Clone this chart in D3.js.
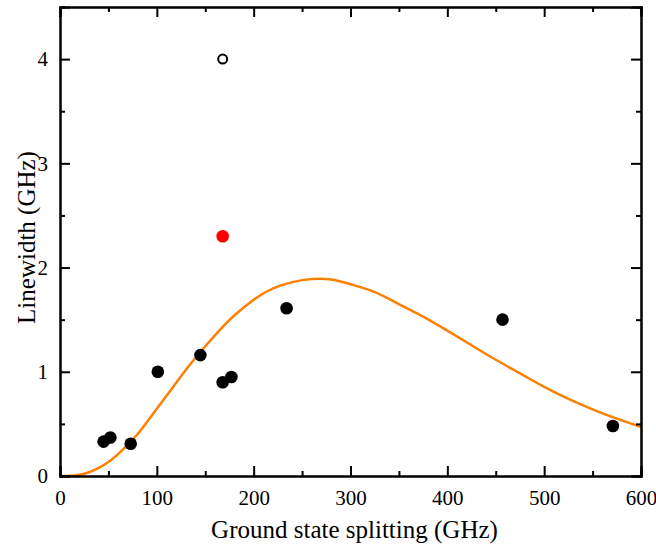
<!DOCTYPE html>
<html>
<head>
<meta charset="utf-8">
<script src="https://cdn.jsdelivr.net/npm/d3@7"></script>
<style>
body { margin: 0; background: #fff; }
</style>
</head>
<body>
<div class="chart"></div>
<script>
// measured points (GHz)
var splitting = [45, 52, 73, 101, 145, 168, 177, 234, 457, 571];
var linewidth = [0.33, 0.37, 0.31, 1.0, 1.16, 0.90, 0.95, 1.61, 1.50, 0.48];
// highlighted point and open point
var redPoint = [168, 2.30];
var openPoint = [168, 4.0];
// fit curve
var fitX = [0, 10, 20, 30, 40, 50, 60, 70, 80, 90, 100, 110, 120, 130, 140, 150, 160, 170, 180, 200, 220, 240, 260, 280, 300, 325, 350, 375, 400, 425, 450, 475, 500, 525, 550, 575, 600];
var fitY = [0, 0.002, 0.012, 0.036, 0.077, 0.135, 0.21, 0.30, 0.40, 0.52, 0.645, 0.77, 0.895, 1.02, 1.135, 1.245, 1.35, 1.45, 1.54, 1.69, 1.80, 1.86, 1.89, 1.885, 1.84, 1.765, 1.65, 1.53, 1.395, 1.255, 1.115, 0.985, 0.855, 0.74, 0.64, 0.55, 0.47];
var xTicks = [0, 100, 200, 300, 400, 500, 600];
var yTicks = [0, 1, 2, 3, 4];

var serif = "'Liberation Serif', 'Times New Roman', serif";

var margin = {top: 7, right: 15, bottom: 72, left: 60},
    width = 656 - margin.left - margin.right,
    height = 548 - margin.top - margin.bottom;

var x = d3.scaleLinear().domain([0, 600]).range([0, width]);
var y = d3.scaleLinear().domain([0, 4.5]).range([height, 0]);

var svg = d3.select(".chart")
    .append("svg")
    .attr("width", width + margin.left + margin.right)
    .attr("height", height + margin.top + margin.bottom)
    .append("g")
    .attr("transform", "translate(" + margin.left + "," + margin.top + ")");

var fitline = d3.line()
    .x(function(d) { return x(d[0]); })
    .y(function(d) { return y(d[1]); })
    .curve(d3.curveNatural);

svg.append("path")
    .datum(fitX.map(function(v, i) { return [v, fitY[i]]; }))
    .attr("d", fitline)
    .attr("fill", "none")
    .attr("stroke", "#ff8000")
    .attr("stroke-width", 2.5);

svg.selectAll(".dot")
    .data(splitting)
    .enter().append("circle")
    .attr("class", "dot")
    .attr("cx", function(d) { return x(d); })
    .attr("cy", function(d, i) { return y(linewidth[i]); })
    .attr("r", 6.3)
    .attr("fill", "#000");

svg.append("circle")
    .attr("cx", x(redPoint[0])).attr("cy", y(redPoint[1]))
    .attr("r", 6.3).attr("fill", "#ff0000");

svg.append("circle")
    .attr("cx", x(openPoint[0])).attr("cy", y(openPoint[1]))
    .attr("r", 4.5).attr("fill", "none")
    .attr("stroke", "#000").attr("stroke-width", 2);

// axes: inward ticks, major + minor, mirrored on top and right
function addAxis(axisFn, scale, ticks, minor, transform, labels) {
    var g = svg.append("g").attr("transform", transform);
    g.call(axisFn(scale).tickValues(minor).tickSize(-5).tickFormat(""));
    var gm = svg.append("g").attr("transform", transform);
    gm.call(axisFn(scale).tickValues(ticks).tickSize(-10).tickPadding(14)
        .tickFormat(labels ? d3.format("d") : ""));
    [g, gm].forEach(function(s) {
        s.attr("font-family", serif).attr("font-size", 21);
        s.select(".domain").attr("stroke", "#000").attr("stroke-width", 2);
        s.selectAll(".tick line").attr("stroke", "#000").attr("stroke-width", 2);
        s.selectAll("text").attr("fill", "#000");
    });
    return gm;
}
var xMinor = d3.range(50, 600, 100);
var yMinor = d3.range(0.5, 4.5, 1);

addAxis(d3.axisBottom, x, xTicks, xMinor, "translate(0," + height + ")", true);
addAxis(d3.axisTop, x, xTicks, xMinor, "translate(0,0)", false);
var yl = addAxis(d3.axisLeft, y, yTicks, yMinor, "translate(0,0)", true);
addAxis(d3.axisRight, y, yTicks, yMinor, "translate(" + width + ",0)", false);
yl.selectAll("text").attr("dx", "0.1em");

svg.append("text")
    .attr("font-family", serif)
    .attr("font-size", 25)
    .attr("x", width / 2 + 4)
    .attr("y", height + 62)
    .attr("text-anchor", "middle")
    .text("Ground state splitting (GHz)");

svg.append("text")
    .attr("font-family", serif)
    .attr("font-size", 25)
    .attr("transform", "translate(-25," + (height / 2 - 4) + ") rotate(-90)")
    .attr("text-anchor", "middle")
    .text("Linewidth (GHz)");
</script>
</body>
</html>
